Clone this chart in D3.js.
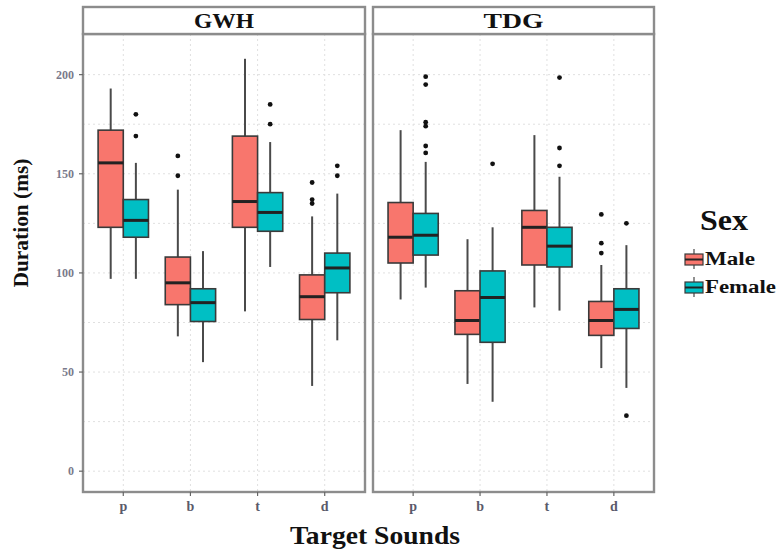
<!DOCTYPE html>
<html>
<head>
<meta charset="utf-8">
<script src="https://cdn.jsdelivr.net/npm/d3@7"></script>
<style>
  body { margin: 0; background: #fff; }
  svg { display: block; }
  text { font-family: "Liberation Serif", "Times New Roman", "DejaVu Serif", serif; }
</style>
</head>
<body>
<div id="chart"></div>
<script>

// ---------- data ----------
var panels = ["GWH", "TDG"];
var sounds = ["p", "b", "t", "d"];
var sexes = ["Male", "Female"];
var yTicks = [0, 50, 100, 150, 200];
var yGrid = [0, 25, 50, 75, 100, 125, 150, 175, 200];

// [lower whisker, q1, median, q3, upper whisker], one row per sound (p, b, t, d)
var gwhMale   = [[97, 123, 155.5, 172, 193], [68, 84, 95, 108, 142], [80.6, 123, 136, 169, 208], [43, 76.5, 88, 99, 128.5]];
var gwhFemale = [[97, 118, 126.5, 137, 155.5], [55, 75.5, 85, 92, 111], [103, 121, 130.5, 140.5, 166], [66, 90, 102.5, 110, 140]];
var tdgMale   = [[86.6, 105, 118, 135.5, 172], [44, 69, 76, 91, 117], [82.6, 104, 123, 131.5, 169.5], [52, 68.5, 76, 85.6, 104]];
var tdgFemale = [[92.6, 109, 119, 130, 156], [35, 65, 87.6, 101, 123], [81, 103, 113.5, 123, 148.5], [42, 72, 81.6, 92, 114]];

// outliers per sound (p, b, t, d)
var gwhMaleOut   = [[], [159, 149], [], [145.6, 137, 135]];
var gwhFemaleOut = [[180, 169], [], [185, 175], [154, 149]];
var tdgMaleOut   = [[], [], [], [129.5, 115, 110]];
var tdgFemaleOut = [[199, 195, 176, 174, 164, 160.5], [155], [198.5, 163, 154], [125, 28]];

var stats = {GWH: {Male: gwhMale, Female: gwhFemale}, TDG: {Male: tdgMale, Female: tdgFemale}};
var outs  = {GWH: {Male: gwhMaleOut, Female: gwhFemaleOut}, TDG: {Male: tdgMaleOut, Female: tdgFemaleOut}};

var fillColor = {Male: "#f8766d", Female: "#00bfc4"};

// ---------- layout ----------
var w = 778, h = 554;
var panelX = [[83, 365], [373, 654]];
var stripTop = 7, panelTop = 34, panelBottom = 492;

var svg = d3.select("#chart").append("svg").attr("width", w).attr("height", h);

var y = d3.scaleLinear().domain([-10.5, 220.5]).range([panelBottom, panelTop]);

panels.forEach(function(panel, pi) {
    var x0 = panelX[pi][0], x1 = panelX[pi][1];
    // discrete axis with ggplot's 0.6 unit expansion each side
    var x = d3.scalePoint().domain(sounds)
        .range([x0, x1]).padding(0.6);
    var unit = x.step();
    var cx = function(s) { return x(s); };
    var sub = d3.scaleBand().domain(sexes).range([-unit * 0.375, unit * 0.375]);

    var g = svg.append("g");

    // grid
    g.selectAll(".hgrid").data(yGrid).enter().append("line")
        .attr("x1", x0).attr("x2", x1)
        .attr("y1", function(d) { return y(d); }).attr("y2", function(d) { return y(d); })
        .style("stroke", "#e0e0e0").style("stroke-width", 1).style("stroke-dasharray", "2,3");
    g.selectAll(".vgrid").data(sounds).enter().append("line")
        .attr("x1", cx).attr("x2", cx)
        .attr("y1", panelTop).attr("y2", panelBottom)
        .style("stroke", "#e0e0e0").style("stroke-width", 1).style("stroke-dasharray", "2,3");

    // boxes
    sounds.forEach(function(s, si) {
        sexes.forEach(function(sex) {
            var st = stats[panel][sex][si];
            var bx = cx(s) + sub(sex), bw = sub.bandwidth(), mid = bx + bw / 2;
            g.append("line")
                .attr("x1", mid).attr("x2", mid).attr("y1", y(st[4])).attr("y2", y(st[0]))
                .style("stroke", "#4a4a4a").style("stroke-width", 2);
            g.append("rect")
                .attr("x", bx).attr("y", y(st[3])).attr("width", bw).attr("height", y(st[1]) - y(st[3]))
                .style("fill", fillColor[sex]).style("stroke", "#3a3a3a").style("stroke-width", 1.6);
            g.append("line")
                .attr("x1", bx).attr("x2", bx + bw).attr("y1", y(st[2])).attr("y2", y(st[2]))
                .style("stroke", "#222").style("stroke-width", 3);
            g.selectAll(null).data(outs[panel][sex][si]).enter().append("circle")
                .attr("cx", mid).attr("cy", function(d) { return y(d); }).attr("r", 2.4)
                .style("fill", "#111");
        });
    });

    // panel border
    g.append("rect")
        .attr("x", x0).attr("y", panelTop).attr("width", x1 - x0).attr("height", panelBottom - panelTop)
        .style("fill", "none").style("stroke", "#8c8c8c").style("stroke-width", 2.4);

    // strip
    g.append("rect")
        .attr("x", x0).attr("y", stripTop).attr("width", x1 - x0).attr("height", panelTop - stripTop)
        .style("fill", "#fff").style("stroke", "#8c8c8c").style("stroke-width", 2.4);
    g.append("text")
        .attr("x", (x0 + x1) / 2).attr("y", (stripTop + panelTop) / 2 + 7)
        .attr("text-anchor", "middle").style("font-size", "21px").style("font-weight", "bold")
        .attr("textLength", 60).attr("lengthAdjust", "spacingAndGlyphs")
        .style("fill", "#111").text(panel);

    // x axis
    var xa = g.append("g");
    xa.selectAll("line").data(sounds).enter().append("line")
        .attr("x1", cx).attr("x2", cx).attr("y1", panelBottom).attr("y2", panelBottom + 4)
        .style("stroke", "#666").style("stroke-width", 1.2);
    xa.selectAll("text").data(sounds).enter().append("text")
        .attr("x", cx).attr("y", panelBottom + 19)
        .attr("text-anchor", "middle").style("font-size", "14px").style("font-weight", "bold")
        .style("fill", "#5a5a6a").text(function(d) { return d; });

    // y axis (left panel only)
    if (pi === 0) {
        var ya = g.append("g");
        ya.selectAll("line").data(yTicks).enter().append("line")
            .attr("x1", x0 - 4).attr("x2", x0)
            .attr("y1", function(d) { return y(d); }).attr("y2", function(d) { return y(d); })
            .style("stroke", "#666").style("stroke-width", 1.2);
        ya.selectAll("text").data(yTicks).enter().append("text")
            .attr("x", x0 - 9).attr("y", function(d) { return y(d) + 4; })
            .attr("text-anchor", "end").style("font-size", "12px").style("font-weight", "bold")
            .style("fill", "#7a7a8c").text(function(d) { return d; });
    }
});

// axis titles
svg.append("text")
    .attr("x", 375).attr("y", 544).attr("text-anchor", "middle")
    .style("font-size", "25px").style("font-weight", "bold").style("fill", "#111")
    .attr("textLength", 170).attr("lengthAdjust", "spacingAndGlyphs")
    .text("Target Sounds");
svg.append("text")
    .attr("transform", "translate(28,223) rotate(-90)")
    .attr("text-anchor", "middle")
    .style("font-size", "20px").style("font-weight", "bold").style("fill", "#111")
    .attr("textLength", 129).attr("lengthAdjust", "spacingAndGlyphs")
    .text("Duration (ms)");

// legend
var lg = svg.append("g").attr("transform", "translate(684,0)");
lg.append("text").attr("x", 40).attr("y", 230).attr("text-anchor", "middle")
    .style("font-size", "30px").style("font-weight", "bold").style("fill", "#111")
    .attr("textLength", 48).attr("lengthAdjust", "spacingAndGlyphs")
    .text("Sex");
var legendW = {Male: 50, Female: 71};
sexes.forEach(function(sex, i) {
    var ky = 249 + i * 28;
    lg.append("line").attr("x1", 10).attr("x2", 10).attr("y1", ky).attr("y2", ky + 20)
        .style("stroke", "#555").style("stroke-width", 1.3);
    lg.append("rect").attr("x", 1).attr("y", ky + 5).attr("width", 18).attr("height", 11)
        .style("fill", fillColor[sex]).style("stroke", "#3a3a3a").style("stroke-width", 1.2);
    lg.append("line").attr("x1", 1).attr("x2", 19).attr("y1", ky + 10.5).attr("y2", ky + 10.5)
        .style("stroke", "#222").style("stroke-width", 2);
    lg.append("text").attr("x", 21).attr("y", ky + 16)
        .style("font-size", "18px").style("font-weight", "bold").style("fill", "#111")
        .attr("textLength", legendW[sex]).attr("lengthAdjust", "spacingAndGlyphs")
        .text(sex);
});

</script>
</body>
</html>
